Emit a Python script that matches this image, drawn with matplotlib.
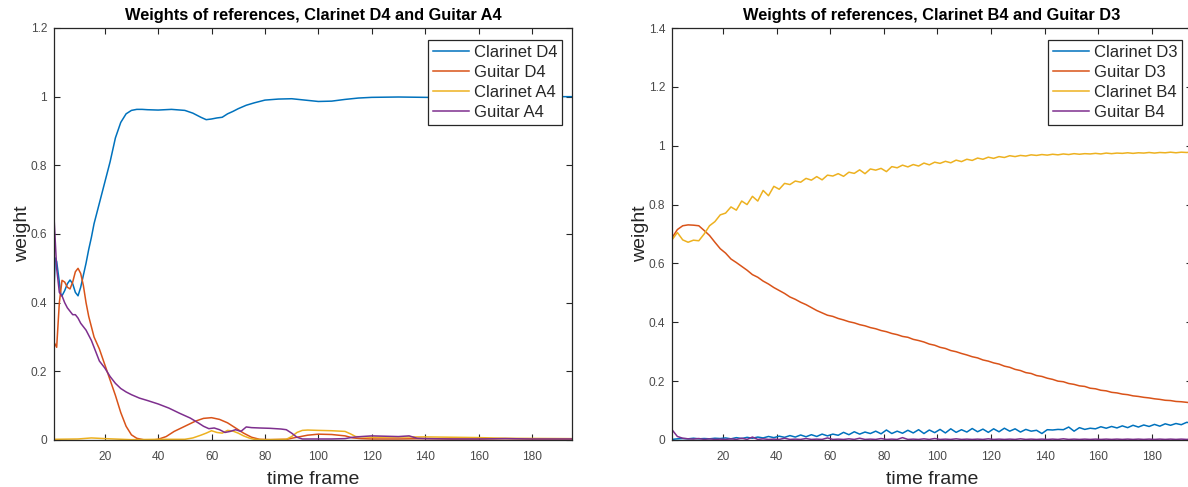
import numpy as np
import matplotlib
matplotlib.use("Agg")
import matplotlib.pyplot as plt

plt.rcParams['font.family'] = ['Liberation Sans', 'DejaVu Sans']

# MATLAB default line colours
C_BLUE = '#0072BD'
C_ORANGE = '#D95319'
C_YELLOW = '#EDB120'
C_PURPLE = '#7E2F8E'
AX_COL = '#262626'

# ---------------- left panel: Clarinet D4 / Guitar A4 ----------------
left_labels = ['Clarinet D4', 'Guitar D4', 'Clarinet A4', 'Guitar A4']

clarinet_d4_x = [1, 1.5, 2, 3, 3.6, 4, 5, 6, 7, 8, 9, 10, 11, 12, 13, 14, 15, 16, 17, 18, 19,
                 20, 22, 24, 26, 28, 30, 32, 34, 36, 40, 45, 50, 53, 56, 58, 60, 62, 64, 66,
                 68, 70, 73, 76, 80, 85, 90, 95, 100, 105, 110, 115, 120, 130, 140, 150, 160,
                 170, 180, 195]
clarinet_d4_y = [0.44, 0.53, 0.52, 0.46, 0.42, 0.42, 0.435, 0.455, 0.466, 0.455, 0.43, 0.42,
                 0.445, 0.48, 0.515, 0.555, 0.59, 0.63, 0.66, 0.69, 0.72, 0.75, 0.81, 0.88,
                 0.925, 0.95, 0.96, 0.963, 0.963, 0.962, 0.961, 0.963, 0.96, 0.952, 0.94,
                 0.933, 0.935, 0.938, 0.94, 0.95, 0.957, 0.965, 0.975, 0.982, 0.99, 0.993,
                 0.994, 0.99, 0.986, 0.987, 0.992, 0.996, 0.998, 0.999, 0.998, 0.997, 0.998,
                 0.999, 1.0, 1.0]

guitar_d4_x = [1, 2, 3, 4, 5, 6, 7, 8, 9, 10, 11, 12, 13, 14, 16, 18, 20, 22, 24, 26, 28, 30,
               32, 35, 38, 40, 43, 46, 50, 54, 57, 60, 63, 66, 69, 72, 75, 78, 82, 88, 92, 96,
               100, 105, 110, 113, 116, 120, 130, 140, 150, 160, 170, 180, 195]
guitar_d4_y = [0.285, 0.27, 0.40, 0.465, 0.46, 0.445, 0.44, 0.46, 0.49, 0.50, 0.485, 0.45,
               0.40, 0.36, 0.30, 0.265, 0.22, 0.175, 0.13, 0.08, 0.04, 0.015, 0.005, 0.0, 0.0,
               0.002, 0.01, 0.025, 0.04, 0.055, 0.063, 0.065, 0.06, 0.05, 0.035, 0.02, 0.008,
               0.002, 0.001, 0.002, 0.008, 0.014, 0.017, 0.016, 0.012, 0.006, 0.004, 0.003,
               0.003, 0.004, 0.003, 0.003, 0.004, 0.003, 0.003]

clarinet_a4_x = [1, 10, 15, 20, 30, 40, 50, 53, 56, 58, 60, 62, 64, 66, 68, 70, 72, 74, 76, 80,
                 88, 90, 92, 94, 96, 100, 105, 110, 112, 114, 120, 140, 160, 170, 195]
clarinet_a4_y = [0.002, 0.003, 0.006, 0.004, 0.001, 0.002, 0.002, 0.006, 0.014, 0.02, 0.027,
                 0.022, 0.02, 0.028, 0.026, 0.02, 0.012, 0.006, 0.002, 0.001, 0.002, 0.01,
                 0.022, 0.028, 0.029, 0.028, 0.027, 0.025, 0.018, 0.01, 0.008, 0.009, 0.007,
                 0.005, 0.004]

guitar_a4_x = [1, 2, 3, 4, 5, 6, 7, 8, 9, 10, 11, 12, 13, 14, 15, 16, 17, 18, 20, 22, 24, 26,
               28, 30, 33, 36, 40, 44, 48, 52, 55, 57, 59, 61, 63, 65, 67, 69, 71, 73, 75, 78,
               82, 86, 88, 90, 92, 94, 100, 105, 110, 113, 116, 120, 125, 130, 134, 137, 140,
               150, 160, 170, 180, 195]
guitar_a4_y = [0.65, 0.50, 0.43, 0.42, 0.40, 0.385, 0.375, 0.365, 0.365, 0.355, 0.34, 0.33,
               0.32, 0.305, 0.29, 0.27, 0.25, 0.23, 0.21, 0.185, 0.165, 0.15, 0.14, 0.132,
               0.122, 0.115, 0.105, 0.093, 0.078, 0.064, 0.05, 0.04, 0.033, 0.035, 0.03, 0.022,
               0.025, 0.03, 0.025, 0.038, 0.036, 0.035, 0.034, 0.032, 0.03, 0.02, 0.008, 0.003,
               0.003, 0.003, 0.004, 0.008, 0.01, 0.012, 0.011, 0.01, 0.012, 0.005, 0.004,
               0.003, 0.003, 0.004, 0.003, 0.003]

# ---------------- right panel: Clarinet B4 / Guitar D3 (every 2nd frame) ----------------
right_labels = ['Clarinet D3', 'Guitar D3', 'Clarinet B4', 'Guitar B4']
frames_r = list(range(1, 196, 2))

clarinet_d3 = [0.002, 0.004, 0.005, 0.004, 0.006, 0.004, 0.005, 0.004, 0.006, 0.005, 0.007,
               0.004, 0.008, 0.005, 0.009, 0.006, 0.010, 0.007, 0.012, 0.008, 0.013, 0.009,
               0.015, 0.010, 0.017, 0.011, 0.018, 0.012, 0.020, 0.014, 0.020, 0.016, 0.026,
               0.018, 0.028, 0.020, 0.027, 0.022, 0.030, 0.021, 0.034, 0.022, 0.030, 0.023,
               0.033, 0.024, 0.035, 0.022, 0.034, 0.025, 0.036, 0.024, 0.038, 0.026, 0.035,
               0.027, 0.039, 0.028, 0.037, 0.026, 0.038, 0.028, 0.040, 0.030, 0.038, 0.027,
               0.036, 0.030, 0.033, 0.022, 0.035, 0.034, 0.036, 0.035, 0.044, 0.030, 0.042,
               0.036, 0.040, 0.038, 0.045, 0.040, 0.046, 0.041, 0.048, 0.042, 0.050, 0.044,
               0.051, 0.046, 0.053, 0.047, 0.055, 0.050, 0.056, 0.052, 0.060, 0.058]

guitar_d3 = [0.687, 0.715, 0.728, 0.731, 0.730, 0.728, 0.712, 0.695, 0.672, 0.650, 0.635,
             0.615, 0.603, 0.590, 0.577, 0.562, 0.553, 0.540, 0.530, 0.518, 0.508, 0.498,
             0.486, 0.478, 0.468, 0.460, 0.450, 0.440, 0.432, 0.424, 0.420, 0.413, 0.408,
             0.402, 0.398, 0.392, 0.388, 0.382, 0.378, 0.372, 0.368, 0.362, 0.358, 0.352,
             0.349, 0.342, 0.338, 0.333, 0.326, 0.322, 0.315, 0.311, 0.304, 0.300, 0.294,
             0.289, 0.283, 0.279, 0.272, 0.268, 0.262, 0.258, 0.251, 0.247, 0.240, 0.236,
             0.229, 0.226, 0.219, 0.216, 0.210, 0.206, 0.200, 0.198, 0.192, 0.189, 0.184,
             0.182, 0.176, 0.174, 0.169, 0.167, 0.162, 0.160, 0.156, 0.154, 0.150, 0.148,
             0.145, 0.143, 0.140, 0.138, 0.135, 0.134, 0.131, 0.130, 0.128, 0.126]

clarinet_b4 = [0.680, 0.705, 0.680, 0.672, 0.679, 0.677, 0.700, 0.728, 0.742, 0.765, 0.771,
               0.792, 0.781, 0.812, 0.800, 0.828, 0.812, 0.848, 0.830, 0.862, 0.852, 0.872,
               0.868, 0.880, 0.876, 0.889, 0.883, 0.895, 0.884, 0.900, 0.897, 0.905, 0.896,
               0.910, 0.906, 0.918, 0.905, 0.921, 0.917, 0.923, 0.912, 0.929, 0.925, 0.934,
               0.928, 0.936, 0.931, 0.941, 0.935, 0.944, 0.940, 0.947, 0.942, 0.951, 0.946,
               0.954, 0.950, 0.958, 0.954, 0.961, 0.957, 0.963, 0.960, 0.966, 0.963, 0.967,
               0.965, 0.969, 0.967, 0.970, 0.968, 0.971, 0.969, 0.972, 0.970, 0.973, 0.971,
               0.973, 0.972, 0.974, 0.972, 0.975, 0.973, 0.975, 0.974, 0.976, 0.974, 0.976,
               0.975, 0.977, 0.975, 0.977, 0.976, 0.978, 0.976, 0.978, 0.977, 0.978]

guitar_b4 = [0.035, 0.012, 0.006, 0.004, 0.003, 0.005, 0.002, 0.004, 0.002, 0.003, 0.002,
             0.004, 0.002, 0.006, 0.002, 0.010, 0.002, 0.004, 0.002, 0.003, 0.002, 0.006,
             0.002, 0.003, 0.002, 0.005, 0.002, 0.003, 0.002, 0.007, 0.002, 0.003, 0.002,
             0.004, 0.002, 0.006, 0.002, 0.003, 0.002, 0.005, 0.002, 0.003, 0.002, 0.008,
             0.002, 0.003, 0.002, 0.004, 0.002, 0.005, 0.002, 0.003, 0.002, 0.004, 0.002,
             0.003, 0.002, 0.003, 0.002, 0.004, 0.002, 0.003, 0.002, 0.003, 0.002, 0.004,
             0.002, 0.003, 0.002, 0.003, 0.002, 0.003, 0.002, 0.004, 0.002, 0.003, 0.002,
             0.003, 0.002, 0.003, 0.002, 0.003, 0.002, 0.003, 0.002, 0.003, 0.002, 0.003,
             0.002, 0.003, 0.002, 0.003, 0.002, 0.003, 0.002, 0.003, 0.002, 0.003]

x_ticks = [20, 40, 60, 80, 100, 120, 140, 160, 180]
left_yticks = [0, 0.2, 0.4, 0.6, 0.8, 1, 1.2]
right_yticks = [0, 0.2, 0.4, 0.6, 0.8, 1, 1.2, 1.4]

W, H = 1188, 487
fig = plt.figure(figsize=(W / 100, H / 100), dpi=100)
fig.patch.set_facecolor('white')

ax_l = fig.add_axes([54 / W, (H - 440) / H, 518 / W, 412 / H])
ax_r = fig.add_axes([672 / W, (H - 440) / H, 520 / W, 412 / H])


def style_axes(ax, yticks, title):
    ax.set_xlim(1, 195)
    ax.set_ylim(yticks[0], yticks[-1])
    ax.set_xticks(x_ticks)
    ax.set_xticklabels([str(t) for t in x_ticks])
    ax.set_yticks(yticks)
    ax.set_yticklabels([('%g' % t) for t in yticks])
    ax.tick_params(direction='in', top=True, right=True, length=4, width=0.8,
                   color=AX_COL, labelcolor='#4a4a4a', labelsize=8.6)
    ax.tick_params(axis='x', pad=8)
    ax.tick_params(axis='y', pad=5)
    for sp in ax.spines.values():
        sp.set_color(AX_COL)
        sp.set_linewidth(0.9)
    ax.set_xlabel('time frame', fontsize=14, color=AX_COL, labelpad=6)
    ax.set_ylabel('weight', fontsize=14, color=AX_COL, labelpad=0)
    ax.set_title(title, fontsize=11.8, fontweight='bold', color='black', pad=6)


lw = 1.1
ax_l.plot(clarinet_d4_x, clarinet_d4_y, color=C_BLUE, lw=lw, label=left_labels[0])
ax_l.plot(guitar_d4_x, guitar_d4_y, color=C_ORANGE, lw=lw, label=left_labels[1])
ax_l.plot(clarinet_a4_x, clarinet_a4_y, color=C_YELLOW, lw=lw, label=left_labels[2])
ax_l.plot(guitar_a4_x, guitar_a4_y, color=C_PURPLE, lw=lw, label=left_labels[3])
style_axes(ax_l, left_yticks, 'Weights of references, Clarinet D4 and Guitar A4')

ax_r.plot(frames_r, clarinet_d3, color=C_BLUE, lw=lw, label=right_labels[0])
ax_r.plot(frames_r, guitar_d3, color=C_ORANGE, lw=lw, label=right_labels[1])
ax_r.plot(frames_r, clarinet_b4, color=C_YELLOW, lw=lw, label=right_labels[2])
ax_r.plot(frames_r, guitar_b4, color=C_PURPLE, lw=lw, label=right_labels[3])
style_axes(ax_r, right_yticks, 'Weights of references, Clarinet B4 and Guitar D3')

for ax, w in ((ax_l, 518), (ax_r, 520)):
    leg = ax.legend(loc='upper right', bbox_to_anchor=(1 - 10 / w, 1 - 12 / 412),
                    borderaxespad=0, fontsize=12, frameon=True, fancybox=False,
                    framealpha=1, edgecolor=AX_COL, handlelength=2.2,
                    handletextpad=0.25, labelspacing=0.3, borderpad=0.3)
    leg.get_frame().set_linewidth(0.9)
    for t in leg.get_texts():
        t.set_color(AX_COL)

fig.savefig('out.png', dpi=100)
